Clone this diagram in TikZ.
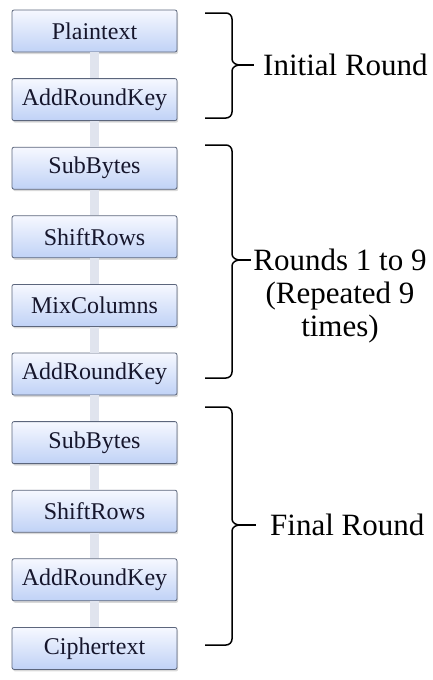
\documentclass[tikz,border=0pt]{standalone}
\usepackage{fontspec}
\setmainfont{Liberation Serif}
\usetikzlibrary{positioning,shadows}
\definecolor{boxedge}{RGB}{92,102,124}
\definecolor{boxtop}{RGB}{246,248,255}
\definecolor{boxbottom}{RGB}{192,210,246}
\definecolor{boxtext}{RGB}{22,22,44}
\definecolor{linkgray}{RGB}{224,228,238}
\begin{document}
\begin{tikzpicture}[x=1pt,y=-1pt,
	stage/.style={rectangle,rounded corners=2pt,draw=boxedge,line width=0.8pt,top color=boxtop,bottom color=boxbottom,
		minimum width=165pt,minimum height=42pt,inner sep=0pt,text=boxtext,font=\fontsize{24}{26}\selectfont,
		drop shadow={opacity=0.3,shadow xshift=1.2pt,shadow yshift=-2pt}},
	link/.style={draw=linkgray,line width=9pt},
	bracket/.style={draw=black,line width=1.5pt},
	roundlabel/.style={inner sep=0pt,font=\fontsize{31}{33}\selectfont},
	node distance=25.8pt]
	\useasboundingbox (0,0) rectangle (432,680);
	% the stages of the cipher
	\node[stage](plain) at (94.5,31) {Plaintext};
	\node[stage,below=of plain](ark0) {AddRoundKey};
	\node[stage,below=of ark0](sub1) {SubBytes};
	\node[stage,below=of sub1](shift1) {ShiftRows};
	\node[stage,below=of shift1](mix1) {MixColumns};
	\node[stage,below=of mix1](ark1) {AddRoundKey};
	\node[stage,below=of ark1](sub2) {SubBytes};
	\node[stage,below=of sub2](shift2) {ShiftRows};
	\node[stage,below=of shift2](ark2) {AddRoundKey};
	\node[stage,below=of ark2](cipher) {Ciphertext};
	\draw[link] (plain) -- (ark0) (ark0) -- (sub1) (sub1) -- (shift1) (shift1) -- (mix1) (mix1) -- (ark1)
		(ark1) -- (sub2) (sub2) -- (shift2) (shift2) -- (ark2) (ark2) -- (cipher);
	% labels of the rounds
	\node[roundlabel,anchor=west](initial) at (263,65) {Initial Round};
	\node[roundlabel,anchor=north,align=center](middle) at (340,249) {Rounds 1 to 9\\(Repeated 9\\times)};
	\node[roundlabel,anchor=west](final) at (270,525) {Final Round};
	% braces
	\draw[bracket] (205,13) -- (226,13) to[out=0,in=90] (232,19) -- (232,59) to[out=-90,in=180] (240,65) coordinate (tipI)
		to[out=180,in=90] (232,71) -- (232,112) to[out=-90,in=0] (226,118) -- (205,118);
	\draw[bracket] (205,145) -- (226,145) to[out=0,in=90] (232,151) -- (232,254) to[out=-90,in=180] (240,260) coordinate (tipR)
		to[out=180,in=90] (232,266) -- (232,372) to[out=-90,in=0] (226,378) -- (205,378);
	\draw[bracket] (205,407) -- (226,407) to[out=0,in=90] (232,413) -- (232,519) to[out=-90,in=180] (240,525) coordinate (tipF)
		to[out=180,in=90] (232,531) -- (232,639) to[out=-90,in=0] (226,645) -- (205,645);
	\draw[bracket] (tipI) -- ([xshift=-9pt]initial.west);
	\draw[bracket] (tipR) -- ([xshift=-2pt]tipR -| middle.west);
	\draw[bracket] (tipF) -- ([xshift=-14pt]final.west);
\end{tikzpicture}
\end{document}
